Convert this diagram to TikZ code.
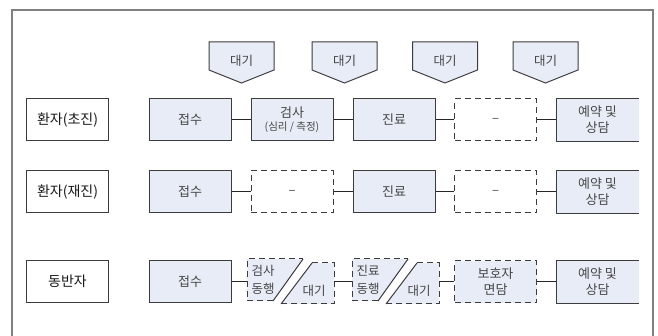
\documentclass[tikz,border=0pt]{standalone}
\usepackage{fontspec}
\newfontfamily\kr{Noto Sans CJK KR}
\definecolor{boxfill}{RGB}{231,236,247}
\definecolor{bdr}{RGB}{60,60,60}
\definecolor{frm}{RGB}{128,128,128}
\definecolor{txt}{RGB}{70,70,70}
\tikzset{
  box/.style={draw=bdr, fill=boxfill, line width=1pt, minimum width=82pt, minimum height=42pt,
    inner sep=0pt, font=\kr\fontsize{13}{16}\selectfont, text=txt, align=center},
  dbox/.style={box, dash pattern=on 6pt off 4pt, fill=white},
  dbox2/.style={box, dash pattern=on 6pt off 4pt},
  labbox/.style={box, fill=white, text=black!90, font=\kr\fontsize{14}{16}\selectfont},
  conn/.style={draw=black!85, line width=1pt},
  pent/.style={draw=bdr, fill=boxfill, line width=1pt},
  dsh/.style={draw=bdr, line width=1pt, dash pattern=on 6pt off 4pt},
  slash/.style={draw=bdr, line width=1pt},
  wtxt/.style={font=\kr\fontsize{12.5}{15}\selectfont, text=txt, inner sep=0pt},
}
\begin{document}
\begin{tikzpicture}[x=1pt,y=-1pt]
\useasboundingbox (0,0) rectangle (658,336);
% outer frame
\draw[frm, line width=1.4pt] (12,340) -- (12,10) -- (653,10) -- (653,340);
% waiting pentagons
\foreach \cx [count=\i] in {241.5,344.5,445,545.5}{
  \draw[pent] (\cx-32.5,42) -- (\cx+32.5,42) -- (\cx+32.5,70) -- (\cx,83) -- (\cx-32.5,70) -- cycle;
  \node[wtxt, font=\kr\fontsize{12.5}{14}\selectfont] (w\i) at (\cx,61) {대기};
}
% row labels
\node[labbox] (l1) at (67.5,120) {환자(초진)};
\node[labbox] (l2) at (67.5,192) {환자(재진)};
\node[labbox] (l3) at (67.5,281.5) {동반자};
% row 1
\node[box] (a1) at (190,120) {접수};
\node[box] (a2) at (292,120) {검사\\[-3pt]{\fontsize{10.5}{12}\selectfont(심리 / 측정)}};
\node[box] (a3) at (394,120) {진료};
\node[dbox] (a4) at (495.5,120) {–};
\node[box, draw=none] (a5) at (597.5,120) {예약 및\\상담};
\draw[bdr, line width=1pt] (a5.north east) -- (a5.north west) -- (a5.south west) -- (a5.south east);
\draw[conn] (a1) -- (a2);
\draw[conn] (a2) -- (a3);
\draw[conn] (a3) -- (a4);
\draw[conn] (a4) -- (a5);
% row 2
\node[box] (b1) at (190,192) {접수};
\node[dbox] (b2) at (292,192) {–};
\node[box] (b3) at (394,192) {진료};
\node[dbox] (b4) at (495.5,192) {–};
\node[box, draw=none] (b5) at (597.5,192) {예약 및\\상담};
\draw[bdr, line width=1pt] (b5.north east) -- (b5.north west) -- (b5.south west) -- (b5.south east);
\draw[conn] (b1) -- (b2);
\draw[conn] (b2) -- (b3);
\draw[conn] (b3) -- (b4);
\draw[conn] (b4) -- (b5);
% row 3
\node[box] (c1) at (190,281.5) {접수};
\foreach \ox/\t/\n in {0/검사/2,105/진료/3}{
  \begin{scope}[xshift=\ox pt]
    \fill[boxfill] (247,259) -- (303,259) -- (273,301) -- (247,301) -- cycle;
    \fill[boxfill] (312,263) -- (334,263) -- (334,304) -- (281,304) -- cycle;
    \draw[dsh] (273,301) -- (247,301) -- (247,259) -- (303,259);
    \draw[dsh] (312,263) -- (334,263) -- (334,304) -- (281,304);
    \draw[slash] (273,301) -- (303,259);
    \draw[slash] (281,304) -- (312,263);
    \coordinate (c\n w) at (247,282);
    \coordinate (c\n e) at (334,282);
    \node[wtxt] at (263,271) {\t};
    \node[wtxt] at (263,289) {동행};
    \node[wtxt] at (314,291) {대기};
  \end{scope}
}
\node[dbox2] (c4) at (495.5,282) {보호자\\면담};
\node[box, draw=none] (c5) at (597.5,282) {예약 및\\상담};
\draw[bdr, line width=1pt] (c5.north east) -- (c5.north west) -- (c5.south west) -- (c5.south east);
\draw[conn] (c1.east |- c2w) -- (c2w);
\draw[conn] (c2e) -- (c3w);
\draw[conn] (c3e) -- (c4.west |- c3e);
\draw[conn] (c4) -- (c5);
\end{tikzpicture}
\end{document}
